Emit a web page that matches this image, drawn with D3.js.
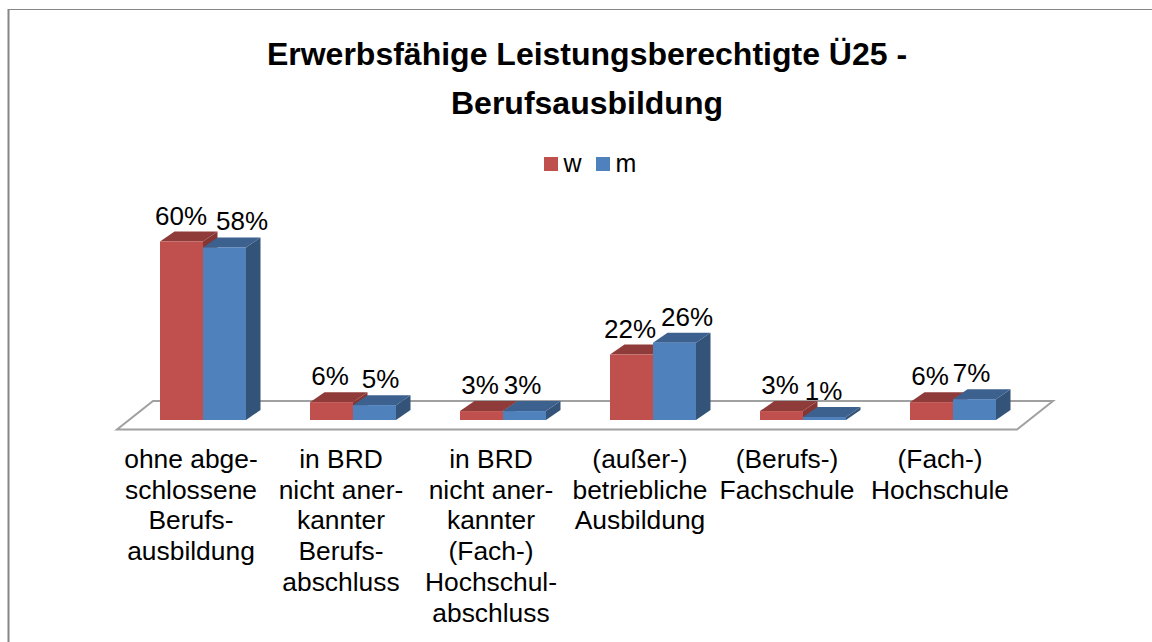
<!DOCTYPE html>
<html><head><meta charset="utf-8">
<script src="https://cdn.jsdelivr.net/npm/d3@7"></script>
<style>html,body{margin:0;padding:0;background:#fff}svg{display:block}text{font-family:"Liberation Sans",Arial,sans-serif;fill:#000}</style>
</head><body><svg id="c" width="1152" height="642"></svg>
<script>
const titleLines=["Erwerbsfähige Leistungsberechtigte Ü25 -","Berufsausbildung"];
const categories=["a","b","c","d","e","f"];
const categoryLabels=[
["ohne abge-","schlossene","Berufs-","ausbildung"],
["in BRD","nicht aner-","kannter","Berufs-","abschluss"],
["in BRD","nicht aner-","kannter","(Fach-)","Hochschul-","abschluss"],
["(außer-)","betriebliche","Ausbildung"],
["(Berufs-)","Fachschule"],
["(Fach-)","Hochschule"]];
const seriesNames=["w","m"];
const valuesW=[60,6,3,22,3,6];
const valuesM=[58,5,3,26,1,7];
const colors={w:{front:"#c0504d",top:"#8f3b39",side:"#853634"},m:{front:"#4f81bd",top:"#3c618f",side:"#335379"}};

const svg=d3.select("#c");
svg.append("path").attr("d","M8.5,642V9.5H1152").attr("fill","none").attr("stroke","#868686").attr("stroke-width",1);
svg.append("path").attr("d","M8.5,642V9").attr("fill","none").attr("stroke","#868686").attr("stroke-width",2);

const baseY=420,depthX=14.5,depthY=-10;
const x=d3.scaleBand().domain(categories).range([117,1017]);
const xs=d3.scaleBand().domain(seriesNames).range([43,129]);
const y=d3.scaleLinear().domain([0,60]).range([baseY,baseY-178.5]);

const fl={x0:117,x1:1017,yf:429.5,dx:36,dy:-28.5};
svg.append("path").attr("d",`M${fl.x0},${fl.yf}H${fl.x1}L${fl.x1+fl.dx},${fl.yf+fl.dy}H${fl.x0+fl.dx}Z`).attr("fill","#fff").attr("stroke","#a0a0a0").attr("stroke-width",2);

const rows=categories.flatMap((c,i)=>[{c,i,s:"w",v:valuesW[i]},{c,i,s:"m",v:valuesM[i]}]);
const g=svg.append("g");
rows.forEach(d=>{
  const x0=x(d.c)+xs(d.s),x1=x0+xs.bandwidth(),t=y(d.v);
  const col=colors[d.s];
  g.append("path").attr("d",`M${x1},${t}L${x1+depthX},${t+depthY}V${baseY+depthY}L${x1},${baseY}Z`).attr("fill",col.side);
  g.append("path").attr("d",`M${x0},${t}L${x0+depthX},${t+depthY}H${x1+depthX}L${x1},${t}Z`).attr("fill",col.top);
  g.append("rect").attr("x",x0).attr("y",t).attr("width",x1-x0).attr("height",baseY-t).attr("fill",col.front);
});
const labelDxW=[-0.5,-1.5,-1.5,-1.5,-1.5,-1.5];
const labelDxM=[17.5,6,-2,12.5,-1,-3];
rows.forEach(d=>{
  const nudge=(d.s==="w"?labelDxW:labelDxM)[d.i];
  const cx=x(d.c)+xs(d.s)+xs.bandwidth()/2+nudge;
  svg.append("text").attr("x",cx).attr("y",y(d.v)-17).attr("text-anchor","middle").attr("font-size",26).text(d.v+"%");
});
const catDx=[74,74,74,73,70,73];
categoryLabels.forEach((ls,i)=>{
  const cx=x(categories[i])+catDx[i];
  ls.forEach((l,j)=>svg.append("text").attr("x",cx).attr("y",468+j*30.7).attr("text-anchor","middle").attr("font-size",26.4).text(l));
});
titleLines.forEach((l,j)=>svg.append("text").attr("x",587).attr("y",65+j*49).attr("text-anchor","middle").attr("font-size",32).attr("font-weight","bold").text(l));
const leg=[{s:"w",x:544},{s:"m",x:596}];
leg.forEach(d=>{
  svg.append("rect").attr("x",d.x).attr("y",157).attr("width",14).attr("height",14).attr("fill",colors[d.s].front);
  svg.append("text").attr("x",d.x+19.5).attr("y",172).attr("font-size",25).text(d.s);
});
</script></body></html>
